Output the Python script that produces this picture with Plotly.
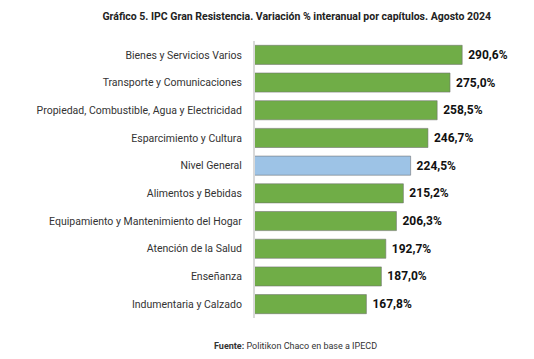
import plotly.graph_objects as go

categories = [
    "Bienes y Servicios Varios",
    "Transporte y Comunicaciones",
    "Propiedad, Combustible, Agua y Electricidad",
    "Esparcimiento y Cultura",
    "Nivel General",
    "Alimentos y Bebidas",
    "Equipamiento y Mantenimiento del Hogar",
    "Atención de la Salud",
    "Enseñanza",
    "Indumentaria y Calzado",
]
values = [290.6, 275.0, 258.5, 246.7, 224.5, 215.2, 206.3, 192.7, 187.0, 167.8]
highlight = "Nivel General"

GREEN = "#70AD47"
BLUE = "#9DC3E6"
colors = [BLUE if c == highlight else GREEN for c in categories]
labels = [" " + f"{v:.1f}".replace(".", ",") + "%" for v in values]

FONT = "Roboto, Lato, sans-serif"

fig = go.Figure(
    go.Bar(
        x=values,
        y=categories,
        orientation="h",
        marker=dict(color=colors, line=dict(color="rgba(110,110,110,0.55)", width=1)),
        text=labels,
        textposition="outside",
        textfont=dict(family=FONT, size=12, color="#111111", weight="bold"),
        cliponaxis=False,
        width=0.69,
    )
)

fig.update_layout(
    width=526,
    height=351,
    paper_bgcolor="white",
    plot_bgcolor="white",
    margin=dict(l=247, r=20, t=33, b=41, autoexpand=False),
    showlegend=False,
    font=dict(family=FONT, size=10.5, color="#333333"),
    title=dict(
        text="<b>Gráfico 5. IPC Gran Resistencia. Variación % interanual por capítulos. Agosto 2024</b>",
        x=0.549,
        xanchor="center",
        y=0.977,
        yanchor="middle",
        font=dict(family=FONT, size=10.5, color="#222222"),
    ),
    annotations=[
        dict(
            text="<b>Fuente:</b> Politikon Chaco en base a IPECD",
            xref="paper",
            yref="paper",
            x=0.158,
            y=-0.1,
            xanchor="center",
            yanchor="middle",
            showarrow=False,
            font=dict(family=FONT, size=9, color="#333333"),
        )
    ],
)

fig.update_xaxes(range=[25, 357], visible=False, fixedrange=True, automargin=False)
fig.update_yaxes(
    categoryorder="array",
    categoryarray=categories[::-1],
    showline=True,
    linecolor="#D9D9D9",
    linewidth=2,
    showgrid=False,
    ticks="",
    ticklabelstandoff=9,
    automargin=False,
    tickfont=dict(family=FONT, size=10.5, color="#333333"),
)

fig.write_html("out.html")
